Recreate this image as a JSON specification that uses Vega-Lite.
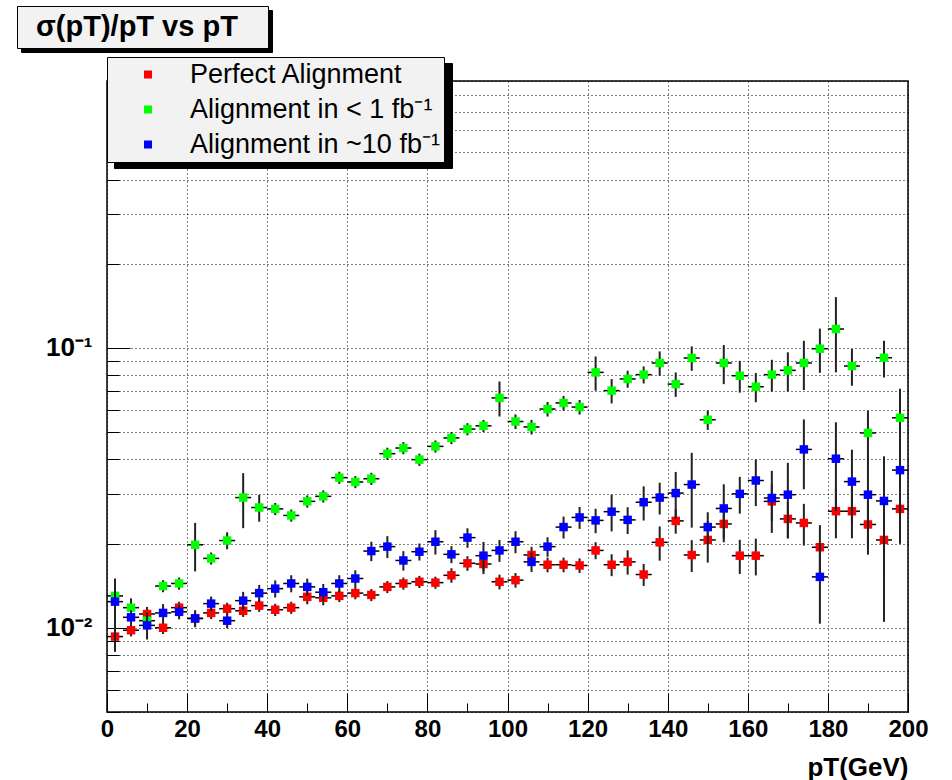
{
  "$schema": "https://vega.github.io/schema/vega-lite/v6.json",
  "width": 801,
  "height": 631,
  "autosize": "none",
  "padding": {"left": 107, "top": 81, "right": 44, "bottom": 68},
  "background": "white",
  "datasets": {
    "perfect": [
      {"pT": 2, "pTlo": 0, "pThi": 4, "sigma": 0.0093, "lo": 0.00837, "hi": 0.01023},
      {"pT": 6, "pTlo": 4, "pThi": 8, "sigma": 0.0098, "lo": 0.00931, "hi": 0.01029},
      {"pT": 10, "pTlo": 8, "pThi": 12, "sigma": 0.0112, "lo": 0.01053, "hi": 0.01187},
      {"pT": 14, "pTlo": 12, "pThi": 16, "sigma": 0.0100, "lo": 0.0095, "hi": 0.0105},
      {"pT": 18, "pTlo": 16, "pThi": 20, "sigma": 0.0118, "lo": 0.01121, "hi": 0.01239},
      {"pT": 22, "pTlo": 20, "pThi": 24, "sigma": 0.0108, "lo": 0.01026, "hi": 0.01134},
      {"pT": 26, "pTlo": 24, "pThi": 28, "sigma": 0.0113, "lo": 0.01074, "hi": 0.01187},
      {"pT": 30, "pTlo": 28, "pThi": 32, "sigma": 0.0117, "lo": 0.01112, "hi": 0.01229},
      {"pT": 34, "pTlo": 32, "pThi": 36, "sigma": 0.0115, "lo": 0.01093, "hi": 0.01208},
      {"pT": 38, "pTlo": 36, "pThi": 40, "sigma": 0.0120, "lo": 0.0114, "hi": 0.0126},
      {"pT": 42, "pTlo": 40, "pThi": 44, "sigma": 0.0116, "lo": 0.01102, "hi": 0.01218},
      {"pT": 46, "pTlo": 44, "pThi": 48, "sigma": 0.0118, "lo": 0.01121, "hi": 0.01239},
      {"pT": 50, "pTlo": 48, "pThi": 52, "sigma": 0.0129, "lo": 0.01213, "hi": 0.01367},
      {"pT": 54, "pTlo": 52, "pThi": 56, "sigma": 0.0128, "lo": 0.01203, "hi": 0.01357},
      {"pT": 58, "pTlo": 56, "pThi": 60, "sigma": 0.0130, "lo": 0.01235, "hi": 0.01365},
      {"pT": 62, "pTlo": 60, "pThi": 64, "sigma": 0.0133, "lo": 0.01264, "hi": 0.01397},
      {"pT": 66, "pTlo": 64, "pThi": 68, "sigma": 0.0131, "lo": 0.01245, "hi": 0.01376},
      {"pT": 70, "pTlo": 68, "pThi": 72, "sigma": 0.0140, "lo": 0.0133, "hi": 0.0147},
      {"pT": 74, "pTlo": 72, "pThi": 76, "sigma": 0.0144, "lo": 0.01368, "hi": 0.01512},
      {"pT": 78, "pTlo": 76, "pThi": 80, "sigma": 0.0146, "lo": 0.01387, "hi": 0.01533},
      {"pT": 82, "pTlo": 80, "pThi": 84, "sigma": 0.0145, "lo": 0.01378, "hi": 0.01523},
      {"pT": 86, "pTlo": 84, "pThi": 88, "sigma": 0.0154, "lo": 0.01448, "hi": 0.01632},
      {"pT": 90, "pTlo": 88, "pThi": 92, "sigma": 0.0170, "lo": 0.01598, "hi": 0.01802},
      {"pT": 94, "pTlo": 92, "pThi": 96, "sigma": 0.0169, "lo": 0.01555, "hi": 0.01825},
      {"pT": 98, "pTlo": 96, "pThi": 100, "sigma": 0.0146, "lo": 0.01372, "hi": 0.01548},
      {"pT": 102, "pTlo": 100, "pThi": 104, "sigma": 0.0148, "lo": 0.01391, "hi": 0.01569},
      {"pT": 106, "pTlo": 104, "pThi": 108, "sigma": 0.0182, "lo": 0.01693, "hi": 0.01947},
      {"pT": 110, "pTlo": 108, "pThi": 112, "sigma": 0.0168, "lo": 0.01579, "hi": 0.01781},
      {"pT": 114, "pTlo": 112, "pThi": 116, "sigma": 0.0168, "lo": 0.01579, "hi": 0.01781},
      {"pT": 118, "pTlo": 116, "pThi": 120, "sigma": 0.0167, "lo": 0.0157, "hi": 0.0177},
      {"pT": 122, "pTlo": 120, "pThi": 124, "sigma": 0.0189, "lo": 0.01758, "hi": 0.02022},
      {"pT": 126, "pTlo": 124, "pThi": 128, "sigma": 0.0168, "lo": 0.01529, "hi": 0.01831},
      {"pT": 130, "pTlo": 128, "pThi": 132, "sigma": 0.0172, "lo": 0.01548, "hi": 0.01892},
      {"pT": 134, "pTlo": 132, "pThi": 136, "sigma": 0.0155, "lo": 0.01411, "hi": 0.0169},
      {"pT": 138, "pTlo": 136, "pThi": 140, "sigma": 0.0202, "lo": 0.01737, "hi": 0.02303},
      {"pT": 142, "pTlo": 140, "pThi": 144, "sigma": 0.0241, "lo": 0.02169, "hi": 0.02651},
      {"pT": 146, "pTlo": 144, "pThi": 148, "sigma": 0.0182, "lo": 0.01583, "hi": 0.02057},
      {"pT": 150, "pTlo": 148, "pThi": 152, "sigma": 0.0206, "lo": 0.0171, "hi": 0.0241},
      {"pT": 154, "pTlo": 152, "pThi": 156, "sigma": 0.0235, "lo": 0.02021, "hi": 0.02679},
      {"pT": 158, "pTlo": 156, "pThi": 160, "sigma": 0.0181, "lo": 0.01557, "hi": 0.02063},
      {"pT": 162, "pTlo": 160, "pThi": 164, "sigma": 0.0181, "lo": 0.01539, "hi": 0.02082},
      {"pT": 166, "pTlo": 164, "pThi": 168, "sigma": 0.0283, "lo": 0.02406, "hi": 0.03255},
      {"pT": 170, "pTlo": 168, "pThi": 172, "sigma": 0.0245, "lo": 0.02083, "hi": 0.02818},
      {"pT": 174, "pTlo": 172, "pThi": 176, "sigma": 0.0237, "lo": 0.01967, "hi": 0.02773},
      {"pT": 178, "pTlo": 176, "pThi": 180, "sigma": 0.0194, "lo": 0.01552, "hi": 0.02328},
      {"pT": 182, "pTlo": 180, "pThi": 184, "sigma": 0.0261, "lo": 0.02088, "hi": 0.03132},
      {"pT": 186, "pTlo": 184, "pThi": 188, "sigma": 0.0261, "lo": 0.02088, "hi": 0.03132},
      {"pT": 190, "pTlo": 188, "pThi": 192, "sigma": 0.0234, "lo": 0.01825, "hi": 0.02855},
      {"pT": 194, "pTlo": 192, "pThi": 196, "sigma": 0.0206, "lo": 0.01545, "hi": 0.02575},
      {"pT": 198, "pTlo": 196, "pThi": 200, "sigma": 0.0266, "lo": 0.01995, "hi": 0.03325}
    ],
    "upto1fb": [
      {"pT": 2, "pTlo": 0, "pThi": 4, "sigma": 0.0130, "lo": 0.01222, "hi": 0.01378},
      {"pT": 6, "pTlo": 4, "pThi": 8, "sigma": 0.0118, "lo": 0.01086, "hi": 0.01274},
      {"pT": 10, "pTlo": 8, "pThi": 12, "sigma": 0.0106, "lo": 0.00996, "hi": 0.01124},
      {"pT": 14, "pTlo": 12, "pThi": 16, "sigma": 0.0141, "lo": 0.0134, "hi": 0.0148},
      {"pT": 18, "pTlo": 16, "pThi": 20, "sigma": 0.0144, "lo": 0.01368, "hi": 0.01512},
      {"pT": 22, "pTlo": 20, "pThi": 24, "sigma": 0.0198, "lo": 0.0159, "hi": 0.0237},
      {"pT": 26, "pTlo": 24, "pThi": 28, "sigma": 0.0177, "lo": 0.01682, "hi": 0.01859},
      {"pT": 30, "pTlo": 28, "pThi": 32, "sigma": 0.0205, "lo": 0.01907, "hi": 0.02194},
      {"pT": 34, "pTlo": 32, "pThi": 36, "sigma": 0.0292, "lo": 0.0227, "hi": 0.0357},
      {"pT": 38, "pTlo": 36, "pThi": 40, "sigma": 0.0269, "lo": 0.02394, "hi": 0.02986},
      {"pT": 42, "pTlo": 40, "pThi": 44, "sigma": 0.0266, "lo": 0.02527, "hi": 0.02793},
      {"pT": 46, "pTlo": 44, "pThi": 48, "sigma": 0.0252, "lo": 0.02394, "hi": 0.02646},
      {"pT": 50, "pTlo": 48, "pThi": 52, "sigma": 0.0283, "lo": 0.02689, "hi": 0.02972},
      {"pT": 54, "pTlo": 52, "pThi": 56, "sigma": 0.0295, "lo": 0.02803, "hi": 0.03098},
      {"pT": 58, "pTlo": 56, "pThi": 60, "sigma": 0.0344, "lo": 0.03268, "hi": 0.03612},
      {"pT": 62, "pTlo": 60, "pThi": 64, "sigma": 0.0332, "lo": 0.03154, "hi": 0.03486},
      {"pT": 66, "pTlo": 64, "pThi": 68, "sigma": 0.0341, "lo": 0.0324, "hi": 0.0358},
      {"pT": 70, "pTlo": 68, "pThi": 72, "sigma": 0.0419, "lo": 0.0398, "hi": 0.044},
      {"pT": 74, "pTlo": 72, "pThi": 76, "sigma": 0.0439, "lo": 0.04171, "hi": 0.0461},
      {"pT": 78, "pTlo": 76, "pThi": 80, "sigma": 0.0399, "lo": 0.0379, "hi": 0.0419},
      {"pT": 82, "pTlo": 80, "pThi": 84, "sigma": 0.0445, "lo": 0.04228, "hi": 0.04673},
      {"pT": 86, "pTlo": 84, "pThi": 88, "sigma": 0.0477, "lo": 0.04532, "hi": 0.05009},
      {"pT": 90, "pTlo": 88, "pThi": 92, "sigma": 0.0513, "lo": 0.04874, "hi": 0.05387},
      {"pT": 94, "pTlo": 92, "pThi": 96, "sigma": 0.0527, "lo": 0.05007, "hi": 0.05534},
      {"pT": 98, "pTlo": 96, "pThi": 100, "sigma": 0.0663, "lo": 0.0569, "hi": 0.0759},
      {"pT": 102, "pTlo": 100, "pThi": 104, "sigma": 0.0546, "lo": 0.05132, "hi": 0.05788},
      {"pT": 106, "pTlo": 104, "pThi": 108, "sigma": 0.0522, "lo": 0.04907, "hi": 0.05533},
      {"pT": 110, "pTlo": 108, "pThi": 112, "sigma": 0.0605, "lo": 0.05687, "hi": 0.06413},
      {"pT": 114, "pTlo": 112, "pThi": 116, "sigma": 0.0636, "lo": 0.05978, "hi": 0.06742},
      {"pT": 118, "pTlo": 116, "pThi": 120, "sigma": 0.0615, "lo": 0.05781, "hi": 0.06519},
      {"pT": 122, "pTlo": 120, "pThi": 124, "sigma": 0.0818, "lo": 0.07035, "hi": 0.09325},
      {"pT": 126, "pTlo": 124, "pThi": 128, "sigma": 0.0704, "lo": 0.06336, "hi": 0.07744},
      {"pT": 130, "pTlo": 128, "pThi": 132, "sigma": 0.0775, "lo": 0.07208, "hi": 0.08293},
      {"pT": 134, "pTlo": 132, "pThi": 136, "sigma": 0.0803, "lo": 0.07468, "hi": 0.08592},
      {"pT": 138, "pTlo": 136, "pThi": 140, "sigma": 0.0884, "lo": 0.07956, "hi": 0.09724},
      {"pT": 142, "pTlo": 140, "pThi": 144, "sigma": 0.0743, "lo": 0.06687, "hi": 0.08173},
      {"pT": 146, "pTlo": 144, "pThi": 148, "sigma": 0.0921, "lo": 0.08289, "hi": 0.1013},
      {"pT": 150, "pTlo": 148, "pThi": 152, "sigma": 0.0554, "lo": 0.05097, "hi": 0.05983},
      {"pT": 154, "pTlo": 152, "pThi": 156, "sigma": 0.0884, "lo": 0.07426, "hi": 0.1025},
      {"pT": 158, "pTlo": 156, "pThi": 160, "sigma": 0.0796, "lo": 0.06925, "hi": 0.08995},
      {"pT": 162, "pTlo": 160, "pThi": 164, "sigma": 0.0727, "lo": 0.06398, "hi": 0.08142},
      {"pT": 166, "pTlo": 164, "pThi": 168, "sigma": 0.0803, "lo": 0.06986, "hi": 0.09074},
      {"pT": 170, "pTlo": 168, "pThi": 172, "sigma": 0.0832, "lo": 0.06989, "hi": 0.09651},
      {"pT": 174, "pTlo": 172, "pThi": 176, "sigma": 0.0884, "lo": 0.07072, "hi": 0.1061},
      {"pT": 178, "pTlo": 176, "pThi": 180, "sigma": 0.0994, "lo": 0.08151, "hi": 0.1173},
      {"pT": 182, "pTlo": 180, "pThi": 184, "sigma": 0.1169, "lo": 0.0818, "hi": 0.152},
      {"pT": 186, "pTlo": 184, "pThi": 188, "sigma": 0.0862, "lo": 0.07327, "hi": 0.09913},
      {"pT": 190, "pTlo": 188, "pThi": 192, "sigma": 0.0497, "lo": 0.03976, "hi": 0.05964},
      {"pT": 194, "pTlo": 192, "pThi": 196, "sigma": 0.0923, "lo": 0.07846, "hi": 0.1061},
      {"pT": 198, "pTlo": 196, "pThi": 200, "sigma": 0.0563, "lo": 0.0411, "hi": 0.0715}
    ],
    "upto10fb": [
      {"pT": 2, "pTlo": 0, "pThi": 4, "sigma": 0.0124, "lo": 0.0082, "hi": 0.0150},
      {"pT": 6, "pTlo": 4, "pThi": 8, "sigma": 0.0109, "lo": 0.01025, "hi": 0.01155},
      {"pT": 10, "pTlo": 8, "pThi": 12, "sigma": 0.0102, "lo": 0.00908, "hi": 0.01132},
      {"pT": 14, "pTlo": 12, "pThi": 16, "sigma": 0.0113, "lo": 0.01045, "hi": 0.01215},
      {"pT": 18, "pTlo": 16, "pThi": 20, "sigma": 0.0114, "lo": 0.01072, "hi": 0.01208},
      {"pT": 22, "pTlo": 20, "pThi": 24, "sigma": 0.0108, "lo": 0.01004, "hi": 0.01156},
      {"pT": 26, "pTlo": 24, "pThi": 28, "sigma": 0.0122, "lo": 0.01147, "hi": 0.01293},
      {"pT": 30, "pTlo": 28, "pThi": 32, "sigma": 0.0106, "lo": 0.00996, "hi": 0.01124},
      {"pT": 34, "pTlo": 32, "pThi": 36, "sigma": 0.0125, "lo": 0.01156, "hi": 0.01344},
      {"pT": 38, "pTlo": 36, "pThi": 40, "sigma": 0.0133, "lo": 0.01237, "hi": 0.01423},
      {"pT": 42, "pTlo": 40, "pThi": 44, "sigma": 0.0138, "lo": 0.01283, "hi": 0.01477},
      {"pT": 46, "pTlo": 44, "pThi": 48, "sigma": 0.0144, "lo": 0.01339, "hi": 0.01541},
      {"pT": 50, "pTlo": 48, "pThi": 52, "sigma": 0.0140, "lo": 0.01302, "hi": 0.01498},
      {"pT": 54, "pTlo": 52, "pThi": 56, "sigma": 0.0134, "lo": 0.01246, "hi": 0.01434},
      {"pT": 58, "pTlo": 56, "pThi": 60, "sigma": 0.0144, "lo": 0.01339, "hi": 0.01541},
      {"pT": 62, "pTlo": 60, "pThi": 64, "sigma": 0.0150, "lo": 0.01395, "hi": 0.01605},
      {"pT": 66, "pTlo": 64, "pThi": 68, "sigma": 0.0188, "lo": 0.0173, "hi": 0.0203},
      {"pT": 70, "pTlo": 68, "pThi": 72, "sigma": 0.0195, "lo": 0.01775, "hi": 0.02126},
      {"pT": 74, "pTlo": 72, "pThi": 76, "sigma": 0.0174, "lo": 0.01601, "hi": 0.01879},
      {"pT": 78, "pTlo": 76, "pThi": 80, "sigma": 0.0187, "lo": 0.01739, "hi": 0.02001},
      {"pT": 82, "pTlo": 80, "pThi": 84, "sigma": 0.0203, "lo": 0.01827, "hi": 0.02233},
      {"pT": 86, "pTlo": 84, "pThi": 88, "sigma": 0.0183, "lo": 0.01702, "hi": 0.01958},
      {"pT": 90, "pTlo": 88, "pThi": 92, "sigma": 0.0210, "lo": 0.01932, "hi": 0.02268},
      {"pT": 94, "pTlo": 92, "pThi": 96, "sigma": 0.0181, "lo": 0.01593, "hi": 0.02027},
      {"pT": 98, "pTlo": 96, "pThi": 100, "sigma": 0.0189, "lo": 0.0172, "hi": 0.0206},
      {"pT": 102, "pTlo": 100, "pThi": 104, "sigma": 0.0203, "lo": 0.01847, "hi": 0.02213},
      {"pT": 106, "pTlo": 104, "pThi": 108, "sigma": 0.0172, "lo": 0.01582, "hi": 0.01858},
      {"pT": 110, "pTlo": 108, "pThi": 112, "sigma": 0.0195, "lo": 0.01794, "hi": 0.02106},
      {"pT": 114, "pTlo": 112, "pThi": 116, "sigma": 0.0229, "lo": 0.02084, "hi": 0.02496},
      {"pT": 118, "pTlo": 116, "pThi": 120, "sigma": 0.0248, "lo": 0.02257, "hi": 0.02703},
      {"pT": 122, "pTlo": 120, "pThi": 124, "sigma": 0.0242, "lo": 0.02178, "hi": 0.02662},
      {"pT": 126, "pTlo": 124, "pThi": 128, "sigma": 0.0260, "lo": 0.0221, "hi": 0.0299},
      {"pT": 130, "pTlo": 128, "pThi": 132, "sigma": 0.0243, "lo": 0.02163, "hi": 0.02697},
      {"pT": 134, "pTlo": 132, "pThi": 136, "sigma": 0.0281, "lo": 0.02417, "hi": 0.03203},
      {"pT": 138, "pTlo": 136, "pThi": 140, "sigma": 0.0292, "lo": 0.0254, "hi": 0.033},
      {"pT": 142, "pTlo": 140, "pThi": 144, "sigma": 0.0303, "lo": 0.02454, "hi": 0.03606},
      {"pT": 146, "pTlo": 144, "pThi": 148, "sigma": 0.0325, "lo": 0.0228, "hi": 0.0422},
      {"pT": 150, "pTlo": 148, "pThi": 152, "sigma": 0.0229, "lo": 0.01992, "hi": 0.02588},
      {"pT": 154, "pTlo": 152, "pThi": 156, "sigma": 0.0267, "lo": 0.02083, "hi": 0.03257},
      {"pT": 158, "pTlo": 156, "pThi": 160, "sigma": 0.0301, "lo": 0.02559, "hi": 0.03462},
      {"pT": 162, "pTlo": 160, "pThi": 164, "sigma": 0.0336, "lo": 0.02722, "hi": 0.03998},
      {"pT": 166, "pTlo": 164, "pThi": 168, "sigma": 0.0291, "lo": 0.02183, "hi": 0.03638},
      {"pT": 170, "pTlo": 168, "pThi": 172, "sigma": 0.0299, "lo": 0.02093, "hi": 0.03887},
      {"pT": 174, "pTlo": 172, "pThi": 176, "sigma": 0.0434, "lo": 0.03125, "hi": 0.05555},
      {"pT": 178, "pTlo": 176, "pThi": 180, "sigma": 0.0152, "lo": 0.01034, "hi": 0.02006},
      {"pT": 182, "pTlo": 180, "pThi": 184, "sigma": 0.0402, "lo": 0.02613, "hi": 0.05427},
      {"pT": 186, "pTlo": 184, "pThi": 188, "sigma": 0.0333, "lo": 0.02331, "hi": 0.04329},
      {"pT": 190, "pTlo": 188, "pThi": 192, "sigma": 0.0299, "lo": 0.01944, "hi": 0.04037},
      {"pT": 194, "pTlo": 192, "pThi": 196, "sigma": 0.0284, "lo": 0.0105, "hi": 0.041},
      {"pT": 198, "pTlo": 196, "pThi": 200, "sigma": 0.0366, "lo": 0.02562, "hi": 0.04758}
    ]
  },
  "config": {
    "view": {"stroke": "black", "strokeWidth": 1.5, "fill": "white"},
    "font": "Liberation Sans",
    "axis": {
      "domain": false,
      "labelColor": "black",
      "labelFont": "Liberation Sans",
      "labelFontWeight": "bold",
      "labelOverlap": false,
      "labelFlush": false,
      "tickColor": "black",
      "tickWidth": 1,
      "gridColor": "#000000",
      "gridDash": [1, 3],
      "gridWidth": 1,
      "titleColor": "black",
      "titleFont": "Liberation Sans"
    },
    "legend": {
      "labelColor": "black",
      "labelFont": "Liberation Sans",
      "labelLimit": 0,
      "symbolStrokeWidth": 0,
      "cornerRadius": 0
    }
  },
  "resolve": {"legend": {"color": "independent", "shape": "independent"}},
  "layer": [
    {
      "description": "Invisible copy of the first series; carries the axes and the two drop-shadow boxes behind the title and the key. The shadow boxes are sized by invisible spacer symbols and have no text.",
      "data": {"name": "perfect"},
      "mark": {"type": "point", "opacity": 0, "filled": true},
      "encoding": {
        "x": {
          "field": "pT", "type": "quantitative", "title": "pT(GeV)",
          "scale": {"domain": [0, 200], "nice": false, "zero": false},
          "axis": {
            "values": [0, 5, 10, 15, 20, 25, 30, 35, 40, 45, 50, 55, 60, 65, 70, 75, 80, 85, 90, 95, 100, 105, 110, 115, 120, 125, 130, 135, 140, 145, 150, 155, 160, 165, 170, 175, 180, 185, 190, 195, 200],
            "labelExpr": "datum.value % 20 == 0 ? datum.label : ''",
            "tickSize": {"condition": {"test": "datum.value % 20 == 0", "value": -19}, "value": -9},
            "gridOpacity": {"condition": {"test": "datum.value % 20 == 0", "value": 1}, "value": 0},
            "labelPadding": 24,
            "labelFontSize": 24,
            "titleFontSize": 26,
            "titleFontWeight": "bold",
            "titleAnchor": "end",
            "titleAlign": "right",
            "titleBaseline": "alphabetic",
            "titleX": 801,
            "titleY": 63
          }
        },
        "y": {
          "field": "sigma", "type": "quantitative", "title": null,
          "scale": {"type": "log", "domain": [0.005, 0.9], "nice": false},
          "axis": {
            "values": [0.005, 0.006, 0.007, 0.008, 0.009, 0.01, 0.02, 0.03, 0.04, 0.05, 0.06, 0.07, 0.08, 0.09, 0.1, 0.2, 0.3, 0.4, 0.5, 0.6, 0.7, 0.8, 0.9],
            "labelExpr": "datum.value == 0.1 ? '10\u207b\u00b9' : (datum.value == 0.01 ? '10\u207b\u00b2' : '')",
            "tickSize": {"condition": {"test": "datum.value == 0.1 || datum.value == 0.01", "value": -23}, "value": -12},
            "labelPadding": 38,
            "labelFontSize": 26
          }
        },
        "color": {
          "datum": "Perfect Alignment",
          "scale": {
            "domain": ["Perfect Alignment", "Alignment in < 1 fb\u207b\u00b9", "Alignment in ~10 fb\u207b\u00b9"],
            "range": ["#ff0000", "#00ff00", "#0000ff"]
          },
          "legend": {
            "orient": "none", "legendX": 7, "legendY": -18, "title": null,
            "fillColor": "black", "strokeColor": "black",
            "padding": 4, "rowPadding": 7,
            "symbolType": "square", "symbolSize": 729, "symbolOffset": 303, "symbolOpacity": 0,
            "labelExpr": "''", "labelOffset": -300, "labelFontSize": 27
          }
        },
        "shape": {
          "datum": "\u03c3(pT)/pT vs pT",
          "scale": {"range": ["square"]},
          "legend": {
            "orient": "none", "legendX": -86, "legendY": -71, "title": null,
            "fillColor": "black", "strokeColor": "black",
            "padding": 6, "symbolSize": 841, "symbolOpacity": 0, "symbolOffset": 210,
            "labelExpr": "''", "labelOffset": -200, "labelFontSize": 29
          }
        }
      }
    },
    {
      "layer": [
        {
          "data": {"name": "perfect"},
          "layer": [
            {
              "mark": {"type": "rule", "color": "black", "strokeWidth": 1.5},
              "encoding": {
                "x": {"field": "pTlo", "type": "quantitative", "title": "pT(GeV)"},
                "x2": {"field": "pThi"},
                "y": {"field": "sigma", "type": "quantitative", "title": null}
              }
            },
            {
              "mark": {"type": "rule", "color": "#222222", "strokeWidth": 2},
              "encoding": {
                "x": {"field": "pT", "type": "quantitative", "title": "pT(GeV)"},
                "y": {"field": "lo", "type": "quantitative", "title": null},
                "y2": {"field": "hi"}
              }
            },
            {
              "mark": {"type": "point", "filled": true, "size": 72, "opacity": 1, "strokeWidth": 0},
              "encoding": {
                "x": {"field": "pT", "type": "quantitative", "title": "pT(GeV)"},
                "y": {"field": "sigma", "type": "quantitative", "title": null},
                "color": {
                  "datum": "Perfect Alignment",
                  "scale": {
                    "domain": ["Perfect Alignment", "Alignment in < 1 fb\u207b\u00b9", "Alignment in ~10 fb\u207b\u00b9"],
                    "range": ["#ff0000", "#00ff00", "#0000ff"]
                  },
                  "legend": {
                    "orient": "none", "legendX": 0, "legendY": -24, "title": null,
                    "fillColor": "#f2f2f2", "strokeColor": "black",
                    "padding": 4, "rowPadding": 7,
                    "symbolType": "square", "symbolSize": 64, "symbolOffset": 23.5,
                    "labelOffset": 28.5, "labelFontSize": 27
                  }
                },
                "shape": {
                  "datum": "\u03c3(pT)/pT vs pT",
                  "scale": {"range": ["square"]},
                  "legend": {
                    "orient": "none", "legendX": -90, "legendY": -75, "title": null,
                    "fillColor": "#f2f2f2", "strokeColor": "black",
                    "padding": 6, "symbolSize": 36, "symbolOpacity": 0, "symbolOffset": 221.5,
                    "labelOffset": -237.5, "labelFontSize": 29, "labelFontWeight": "bold"
                  }
                }
              }
            }
          ]
        },
        {
          "data": {"name": "upto1fb"},
          "layer": [
            {
              "mark": {"type": "rule", "color": "black", "strokeWidth": 1.5},
              "encoding": {
                "x": {"field": "pTlo", "type": "quantitative", "title": "pT(GeV)"},
                "x2": {"field": "pThi"},
                "y": {"field": "sigma", "type": "quantitative", "title": null}
              }
            },
            {
              "mark": {"type": "rule", "color": "#222222", "strokeWidth": 2},
              "encoding": {
                "x": {"field": "pT", "type": "quantitative", "title": "pT(GeV)"},
                "y": {"field": "lo", "type": "quantitative", "title": null},
                "y2": {"field": "hi"}
              }
            },
            {
              "mark": {"type": "point", "shape": "square", "filled": true, "size": 72, "opacity": 1, "strokeWidth": 0},
              "encoding": {
                "x": {"field": "pT", "type": "quantitative", "title": "pT(GeV)"},
                "y": {"field": "sigma", "type": "quantitative", "title": null},
                "color": {
                  "datum": "Alignment in < 1 fb\u207b\u00b9",
                  "scale": {
                    "domain": ["Perfect Alignment", "Alignment in < 1 fb\u207b\u00b9", "Alignment in ~10 fb\u207b\u00b9"],
                    "range": ["#ff0000", "#00ff00", "#0000ff"]
                  },
                  "legend": {
                    "orient": "none", "legendX": 0, "legendY": -24, "title": null,
                    "fillColor": "#f2f2f2", "strokeColor": "black",
                    "padding": 4, "rowPadding": 7,
                    "symbolType": "square", "symbolSize": 64, "symbolOffset": 23.5,
                    "labelOffset": 28.5, "labelFontSize": 27
                  }
                }
              }
            }
          ]
        },
        {
          "data": {"name": "upto10fb"},
          "layer": [
            {
              "mark": {"type": "rule", "color": "black", "strokeWidth": 1.5},
              "encoding": {
                "x": {"field": "pTlo", "type": "quantitative", "title": "pT(GeV)"},
                "x2": {"field": "pThi"},
                "y": {"field": "sigma", "type": "quantitative", "title": null}
              }
            },
            {
              "mark": {"type": "rule", "color": "#222222", "strokeWidth": 2},
              "encoding": {
                "x": {"field": "pT", "type": "quantitative", "title": "pT(GeV)"},
                "y": {"field": "lo", "type": "quantitative", "title": null},
                "y2": {"field": "hi"}
              }
            },
            {
              "mark": {"type": "point", "shape": "square", "filled": true, "size": 72, "opacity": 1, "strokeWidth": 0},
              "encoding": {
                "x": {"field": "pT", "type": "quantitative", "title": "pT(GeV)"},
                "y": {"field": "sigma", "type": "quantitative", "title": null},
                "color": {
                  "datum": "Alignment in ~10 fb\u207b\u00b9",
                  "scale": {
                    "domain": ["Perfect Alignment", "Alignment in < 1 fb\u207b\u00b9", "Alignment in ~10 fb\u207b\u00b9"],
                    "range": ["#ff0000", "#00ff00", "#0000ff"]
                  },
                  "legend": {
                    "orient": "none", "legendX": 0, "legendY": -24, "title": null,
                    "fillColor": "#f2f2f2", "strokeColor": "black",
                    "padding": 4, "rowPadding": 7,
                    "symbolType": "square", "symbolSize": 64, "symbolOffset": 23.5,
                    "labelOffset": 28.5, "labelFontSize": 27
                  }
                }
              }
            }
          ]
        }
      ]
    }
  ]
}
